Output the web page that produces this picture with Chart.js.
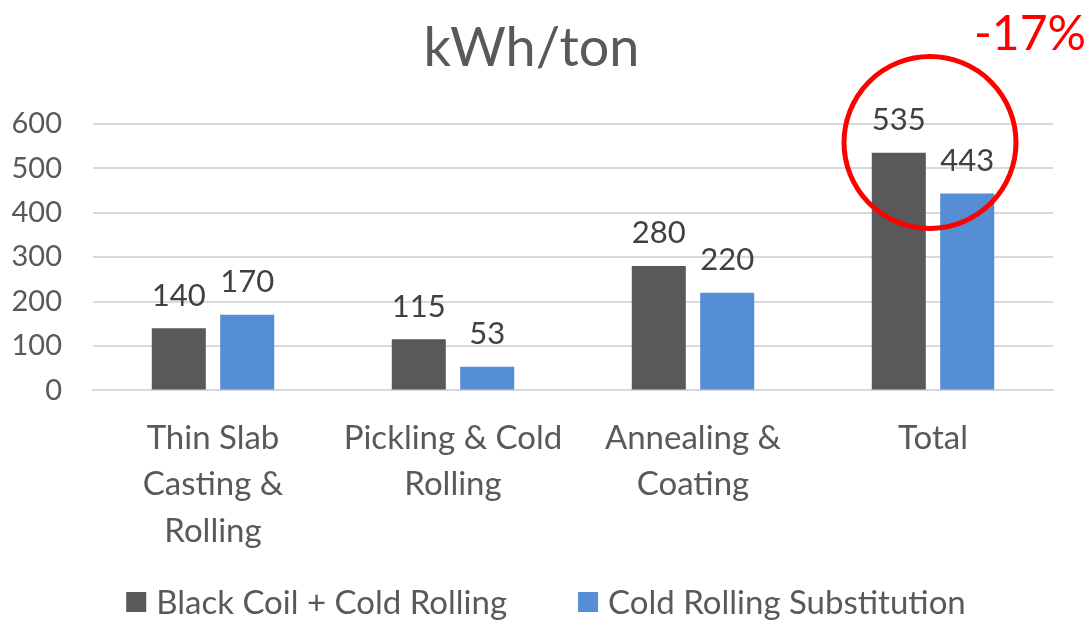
<!DOCTYPE html>
<html>
<head>
<meta charset="utf-8">
<script src="https://cdn.jsdelivr.net/npm/chart.js@4"></script>
<style>
  html, body { margin: 0; padding: 0; background: #fff; }
  #wrap { width: 1088px; height: 620px; }
</style>
</head>
<body>
<div id="wrap"><canvas id="chart"></canvas></div>
<script>
const categories = [
  ['Thin Slab', 'Casting &', 'Rolling'],
  ['Pickling & Cold', 'Rolling'],
  ['Annealing &', 'Coating'],
  'Total'
];
const blackCoil = [140, 115, 280, 535];
const substitution = [170, 53, 220, 443];
const yTicks = [0, 100, 200, 300, 400, 500, 600];

const FONT = 'Lato, "Open Sans", sans-serif';
const GREY = '#595959';

// value labels above every bar
const valueLabels = {
  id: 'valueLabels',
  afterDatasetsDraw(chart) {
    const ctx = chart.ctx;
    ctx.save();
    ctx.font = '31px ' + FONT;
    ctx.fillStyle = '#404040';
    ctx.textAlign = 'center';
    ctx.textBaseline = 'bottom';
    chart.data.datasets.forEach((ds, i) => {
      chart.getDatasetMeta(i).data.forEach((bar, j) => {
        ctx.fillText(ds.data[j], bar.x, bar.y - 17);
      });
    });
    ctx.restore();
  }
};

// legend at the bottom, wider gap between the two items than Chart.js gives
const bottomLegend = {
  id: 'bottomLegend',
  afterDraw(chart) {
    const ctx = chart.ctx;
    const box = 20, textGap = 10, itemGap = 71, y = 602;
    ctx.save();
    ctx.font = '33px ' + FONT;
    ctx.textBaseline = 'middle';
    const items = chart.data.datasets.map(ds => ({
      text: ds.label, color: ds.backgroundColor, w: ctx.measureText(ds.label).width
    }));
    let total = items.reduce((s, it) => s + box + textGap + it.w, 0) + itemGap * (items.length - 1);
    let x = 546 - total / 2;
    items.forEach(it => {
      ctx.fillStyle = it.color;
      ctx.fillRect(x, y - box / 2, box, box);
      ctx.fillStyle = GREY;
      ctx.fillText(it.text, x + box + textGap, y + 1);
      x += box + textGap + it.w + itemGap;
    });
    ctx.restore();
  }
};

// red circle round the Total pair and the -17% note
const callout = {
  id: 'callout',
  afterDraw(chart) {
    const ctx = chart.ctx;
    const x = chart.scales.x.getPixelForValue(3);
    const y = chart.scales.y.getPixelForValue(558);
    ctx.save();
    ctx.strokeStyle = '#ff0000';
    ctx.lineWidth = 5;
    ctx.beginPath();
    ctx.arc(x - 3, y, 86, 0, Math.PI * 2);
    ctx.stroke();
    ctx.fillStyle = '#ff0000';
    ctx.font = '48px ' + FONT;
    ctx.textAlign = 'right';
    ctx.textBaseline = 'middle';
    ctx.fillText('-17%', chart.width - 2, 35);
    ctx.restore();
  }
};

new Chart(document.getElementById('chart'), {
  type: 'bar',
  data: {
    labels: categories,
    datasets: [
      { label: 'Black Coil + Cold Rolling', data: blackCoil, backgroundColor: GREY,
        categoryPercentage: 0.57, barPercentage: 0.79 },
      { label: 'Cold Rolling Substitution', data: substitution, backgroundColor: '#558ed5',
        categoryPercentage: 0.57, barPercentage: 0.79 }
    ]
  },
  options: {
    responsive: true,
    maintainAspectRatio: false,
    animation: false,
    layout: { padding: { left: 10, right: 35, top: 0, bottom: 49 } },
    plugins: {
      title: {
        display: true,
        text: 'kWh/ton',
        color: GREY,
        font: { family: FONT, size: 54, weight: 'normal' },
        padding: { top: 16, bottom: 43 }
      },
      legend: { display: false },
      tooltip: { enabled: false }
    },
    scales: {
      x: {
        grid: { display: false },
        border: { color: '#d9d9d9', width: 2 },
        ticks: {
          color: GREY,
          font: { family: FONT, size: 33, lineHeight: 1.4 },
          maxRotation: 0,
          padding: 17
        }
      },
      y: {
        min: 0,
        max: 600,
        afterBuildTicks(axis) { axis.ticks = yTicks.map(v => ({ value: v })); },
        afterFit(axis) { axis.width = 83; },
        grid: { color: '#d9d9d9', lineWidth: 2, drawTicks: false },
        border: { display: false },
        ticks: {
          color: GREY,
          font: { family: FONT, size: 29 },
          padding: 31,
          autoSkip: false
        }
      }
    }
  },
  plugins: [valueLabels, bottomLegend, callout]
});
</script>
</body>
</html>
